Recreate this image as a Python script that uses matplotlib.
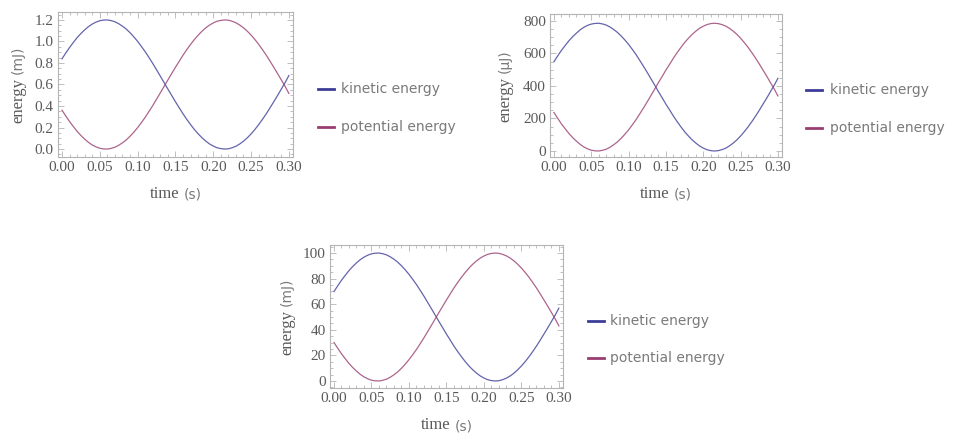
import numpy as np
import matplotlib
matplotlib.use('Agg')
import matplotlib.pyplot as plt
from matplotlib.ticker import MultipleLocator

# time samples (s), every 5 ms
t = np.arange(0, 61) * 0.005

# kinetic / potential energy, top-left panel (mJ)
ke1 = [0.839, 0.893, 0.944, 0.991, 1.036, 1.074, 1.108, 1.138, 1.162, 1.180, 1.193,
       1.199, 1.200, 1.194, 1.183, 1.165, 1.142, 1.115, 1.081, 1.043, 1.001, 0.954,
       0.905, 0.851, 0.796, 0.737, 0.678, 0.618, 0.558, 0.499, 0.440, 0.384, 0.328,
       0.276, 0.228, 0.182, 0.142, 0.106, 0.074, 0.048, 0.028, 0.012, 0.004, 0.000,
       0.002, 0.012, 0.026, 0.047, 0.073, 0.104, 0.140, 0.181, 0.226, 0.275, 0.326,
       0.382, 0.439, 0.497, 0.557, 0.617, 0.683]
pe1 = [0.361, 0.307, 0.256, 0.209, 0.164, 0.126, 0.092, 0.062, 0.038, 0.020, 0.007,
       0.001, 0.000, 0.006, 0.017, 0.035, 0.058, 0.085, 0.119, 0.157, 0.199, 0.246,
       0.295, 0.349, 0.404, 0.463, 0.522, 0.582, 0.642, 0.701, 0.760, 0.816, 0.872,
       0.924, 0.972, 1.018, 1.058, 1.094, 1.126, 1.152, 1.172, 1.188, 1.196, 1.200,
       1.198, 1.188, 1.174, 1.153, 1.127, 1.096, 1.060, 1.019, 0.974, 0.925, 0.874,
       0.818, 0.761, 0.703, 0.643, 0.583, 0.517]

# top-right panel (uJ)
ke2 = [549, 585, 619, 649, 678, 703, 725, 745, 761, 773, 781, 785, 786, 782, 775,
       763, 748, 730, 708, 683, 656, 625, 593, 557, 521, 483, 444, 405, 365, 327,
       288, 252, 215, 181, 149, 119, 93, 69, 49, 31, 18, 8, 2, 0, 2, 8, 17, 31, 48,
       68, 92, 119, 148, 180, 214, 250, 288, 325, 365, 404, 447]
pe2 = [237, 201, 167, 137, 108, 83, 61, 41, 25, 13, 5, 1, 0, 4, 11, 23, 38, 56, 78,
       103, 130, 161, 193, 229, 265, 303, 342, 381, 421, 459, 498, 534, 571, 605,
       637, 667, 693, 717, 737, 755, 768, 778, 784, 786, 784, 778, 769, 755, 738,
       718, 694, 667, 638, 606, 572, 536, 498, 461, 421, 382, 339]

# bottom panel (mJ)
ke3 = [69.9, 74.4, 78.7, 82.6, 86.3, 89.5, 92.3, 94.8, 96.8, 98.3, 99.4, 99.9, 100.0,
       99.5, 98.6, 97.1, 95.2, 92.9, 90.1, 86.9, 83.4, 79.5, 75.4, 70.9, 66.3, 61.4,
       56.5, 51.5, 46.5, 41.6, 36.7, 32.0, 27.3, 23.0, 19.0, 15.2, 11.8, 8.8, 6.2,
       4.0, 2.3, 1.0, 0.3, 0.0, 0.2, 1.0, 2.2, 3.9, 6.1, 8.7, 11.7, 15.1, 18.8, 22.9,
       27.2, 31.8, 36.6, 41.4, 46.4, 51.4, 56.9]
pe3 = [30.1, 25.6, 21.3, 17.4, 13.7, 10.5, 7.7, 5.2, 3.2, 1.7, 0.6, 0.1, 0.0, 0.5,
       1.4, 2.9, 4.8, 7.1, 9.9, 13.1, 16.6, 20.5, 24.6, 29.1, 33.7, 38.6, 43.5, 48.5,
       53.5, 58.4, 63.3, 68.0, 72.7, 77.0, 81.0, 84.8, 88.2, 91.2, 93.8, 96.0, 97.7,
       99.0, 99.7, 100.0, 99.8, 99.0, 97.8, 96.1, 93.9, 91.3, 88.3, 84.9, 81.2, 77.1,
       72.8, 68.2, 63.4, 58.6, 53.6, 48.6, 43.1]

units = ['mJ', '\u03bcJ', 'mJ']
ytick_major = [0.2, 200, 20]
ytick_minor = [0.05, 50, 5]
ylims = [(-0.074, 1.274), (-37, 843), (-5.5, 106.3)]
ytick_fmt = ['{:.1f}', '{:.0f}', '{:.0f}']

c_ke = (0.24, 0.24, 0.6)
c_pe = (0.6, 0.24, 0.442)
frame_col = '#b4b4b4'
txt_col = '#5a5a5a'
lab_col = '#7a7a7a'
serif = ['Liberation Serif', 'DejaVu Serif']
sans = ['DejaVu Sans']

W, H = 956, 434
fig = plt.figure(figsize=(W / 100, H / 100), dpi=100)

# axes boxes in pixels: left, top, right, bottom
boxes = [(58, 12, 293, 157), (550, 14, 782, 157), (330, 245, 563, 388)]
legend_pos = [(318, 341, 89, 127), (806, 830, 90, 128), (588, 610, 321, 358)]
ylab_x = [18, 505, 287]


def fx(x):
    return x / W


def fy(y):
    return 1 - y / H


renderer = fig.canvas.get_renderer()

for i in range(3):
    l, tp, r, b = boxes[i]
    ax = fig.add_axes([fx(l), fy(b), (r - l) / W, (b - tp) / H])
    ax.plot(t, [ke1, ke2, ke3][i], color=c_ke, lw=0.9, alpha=0.8)
    ax.plot(t, [pe1, pe2, pe3][i], color=c_pe, lw=0.9, alpha=0.8)
    ax.set_xlim(-0.0053, 0.3055)
    ax.set_ylim(*ylims[i])
    ax.xaxis.set_minor_locator(MultipleLocator(0.01))
    ax.yaxis.set_minor_locator(MultipleLocator(ytick_minor[i]))
    xt = np.arange(0, 0.31, 0.05)
    ax.set_xticks(xt)
    ax.set_xticklabels(['{:.2f}'.format(v) for v in xt])
    yt = np.arange(0, ylims[i][1], ytick_major[i])
    ax.set_yticks(yt)
    ax.set_yticklabels([ytick_fmt[i].format(v) for v in yt])
    ax.tick_params(which='both', direction='in', top=True, right=True,
                   color=frame_col, width=0.6)
    ax.tick_params(which='major', length=4, pad=3, labelsize=11, labelcolor=txt_col)
    ax.tick_params(which='minor', length=2)
    for lab in ax.get_xticklabels() + ax.get_yticklabels():
        lab.set_family(serif)
    for s in ax.spines.values():
        s.set_color(frame_col)
        s.set_linewidth(0.8)

    # y label: serif word, sans unit
    cy = (tp + b) / 2
    t1 = fig.text(fx(ylab_x[i]), fy(cy), 'energy', rotation=90, family=serif,
                  fontsize=12, color=txt_col, ha='center', va='center')
    t2 = fig.text(fx(ylab_x[i]), fy(cy), '(' + units[i] + ')', rotation=90,
                  family=sans, fontsize=10, color=lab_col, ha='center', va='center')
    h1 = t1.get_window_extent(renderer).height
    h2 = t2.get_window_extent(renderer).height
    gap = 4
    tot = h1 + h2 + gap
    t1.set_position((fx(ylab_x[i]), fy(cy + tot / 2 - h1 / 2)))
    t2.set_position((fx(ylab_x[i]), fy(cy - tot / 2 + h2 / 2)))

    # x label
    cx = (l + r) / 2
    yy = b + 37
    s1 = fig.text(fx(cx), fy(yy), 'time', family=serif, fontsize=12,
                  color=txt_col, ha='center', va='center')
    s2 = fig.text(fx(cx), fy(yy), '(s)', family=sans, fontsize=10,
                  color=lab_col, ha='center', va='center')
    w1 = s1.get_window_extent(renderer).width
    w2 = s2.get_window_extent(renderer).width
    tot = w1 + w2 + gap
    s1.set_position((fx(cx - tot / 2 + w1 / 2), fy(yy)))
    s2.set_position((fx(cx + tot / 2 - w2 / 2), fy(yy + 1)))

    # legend
    lx, tx, y1, y2 = legend_pos[i]
    for yv, col, name in [(y1, c_ke, 'kinetic energy'), (y2, c_pe, 'potential energy')]:
        fig.add_artist(plt.Line2D([fx(lx), fx(lx + 16)], [fy(yv), fy(yv)],
                                  color=col, lw=2, transform=fig.transFigure))
        fig.text(fx(tx), fy(yv), name, family=sans, fontsize=10, color=lab_col,
                 ha='left', va='center')

fig.savefig('out.png', dpi=100)
